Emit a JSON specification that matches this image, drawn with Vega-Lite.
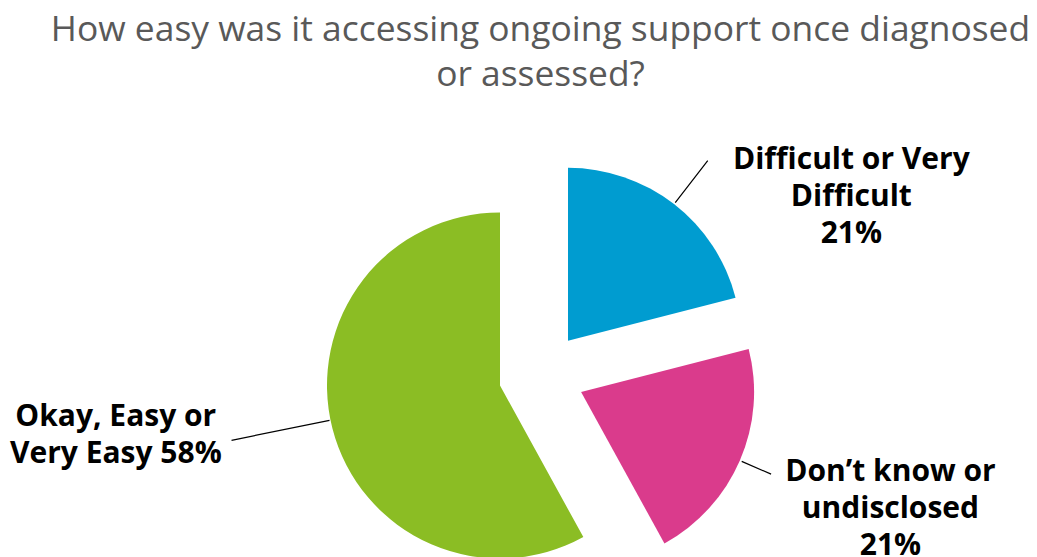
{
  "$schema": "https://vega.github.io/schema/vega-lite/v6.json",
  "width": 1037,
  "height": 557,
  "autosize": {"type": "fit", "contains": "padding"},
  "padding": {"top": 12, "bottom": 0, "left": 0, "right": 0},
  "background": "white",
  "config": {"view": {"stroke": null}},
  "title": {
    "text": ["How easy was it accessing ongoing support once diagnosed", "or assessed?"],
    "font": "Open Sans",
    "fontSize": 35.4,
    "fontWeight": "normal",
    "color": "#595959",
    "lineHeight": 45,
    "anchor": "middle",
    "dx": 22,
    "offset": 0
  },
  "data": {
    "values": [
      {"category": "Difficult or Very Difficult", "value": 21, "label": "Difficult or Very\nDifficult\n21%"},
      {"category": "Don’t know or undisclosed", "value": 21, "label": "Don’t know or\nundisclosed\n21%"},
      {"category": "Okay, Easy or Very Easy", "value": 58, "label": "Okay, Easy or\nVery Easy 58%"}
    ]
  },
  "transform": [
    {"stack": "value", "groupby": [], "sort": [{"field": "category", "order": "ascending"}], "as": ["v0", "v1"]}
  ],
  "encoding": {
    "color": {
      "field": "category",
      "type": "nominal",
      "scale": {
        "domain": ["Difficult or Very Difficult", "Don’t know or undisclosed", "Okay, Easy or Very Easy"],
        "range": ["#009CD0", "#DA3B8C", "#8BBD24"]
      },
      "legend": null
    }
  },
  "layer": [
    {
      "transform": [{"filter": {"field": "category", "equal": "Difficult or Very Difficult"}}],
      "mark": {"type": "arc", "outerRadius": 173, "strokeWidth": 0, "xOffset": 49.5, "yOffset": 15.8},
      "encoding": {
        "theta": {"field": "v0", "type": "quantitative", "scale": {"domain": [0, 100]}},
        "theta2": {"field": "v1"}
      }
    },
    {
      "transform": [{"filter": {"field": "category", "equal": "Don’t know or undisclosed"}}],
      "mark": {"type": "arc", "outerRadius": 173, "strokeWidth": 0, "xOffset": 62.6, "yOffset": 66.9},
      "encoding": {
        "theta": {"field": "v0", "type": "quantitative"},
        "theta2": {"field": "v1"}
      }
    },
    {
      "transform": [{"filter": {"field": "category", "equal": "Okay, Easy or Very Easy"}}],
      "mark": {"type": "arc", "outerRadius": 173, "strokeWidth": 0, "xOffset": -18.5, "yOffset": 60.5},
      "encoding": {
        "theta": {"field": "v0", "type": "quantitative"},
        "theta2": {"field": "v1"}
      }
    },
    {
      "transform": [{"filter": {"field": "category", "equal": "Difficult or Very Difficult"}}],
      "mark": {"type": "arc", "innerRadius": 175, "outerRadius": 228, "padAngle": 3, "filled": false, "stroke": "#000000", "strokeWidth": 1.2, "xOffset": 49.5, "yOffset": 15.8},
      "encoding": {
        "theta": {"field": "v0", "type": "quantitative"},
        "theta2": {"field": "v1"},
        "color": {"value": "#000000"}
      }
    },
    {
      "transform": [{"filter": {"field": "category", "equal": "Don’t know or undisclosed"}}],
      "mark": {"type": "arc", "innerRadius": 175, "outerRadius": 207, "padAngle": 3, "filled": false, "stroke": "#000000", "strokeWidth": 1.2, "xOffset": 62.6, "yOffset": 66.9},
      "encoding": {
        "theta": {"field": "v0", "type": "quantitative"},
        "theta2": {"field": "v1"},
        "color": {"value": "#000000"}
      }
    },
    {
      "transform": [{"filter": {"field": "category", "equal": "Okay, Easy or Very Easy"}}],
      "mark": {"type": "arc", "innerRadius": 174, "outerRadius": 274, "padAngle": 3, "thetaOffset": 0.35, "theta2Offset": -0.25, "filled": false, "stroke": "#000000", "strokeWidth": 1.2, "xOffset": -18.5, "yOffset": 60.5},
      "encoding": {
        "theta": {"field": "v0", "type": "quantitative"},
        "theta2": {"field": "v1"},
        "color": {"value": "#000000"}
      }
    },
    {
      "mark": {"type": "text", "radius": 230, "xOffset": 49.5, "yOffset": 15.8, "dx": 142.4, "dy": -13.9, "align": "center", "baseline": "top", "font": "Open Sans", "fontWeight": "bold", "fontSize": 30, "lineHeight": 37, "lineBreak": "\n"},
      "encoding": {
        "theta": {"field": "value", "type": "quantitative", "stack": true},
        "detail": {"field": "category"},
        "order": {"field": "category", "sort": "ascending"},
        "color": {"value": "#000000"},
        "text": {"condition": {"test": "datum.category === 'Difficult or Very Difficult'", "field": "label"}, "value": ""}
      }
    },
    {
      "mark": {"type": "text", "radius": 210, "xOffset": 62.6, "yOffset": 66.9, "dx": 116.6, "dy": -18, "align": "center", "baseline": "top", "font": "Open Sans", "fontWeight": "bold", "fontSize": 30, "lineHeight": 37, "lineBreak": "\n"},
      "encoding": {
        "theta": {"field": "value", "type": "quantitative", "stack": true},
        "detail": {"field": "category"},
        "order": {"field": "category", "sort": "ascending"},
        "color": {"value": "#000000"},
        "text": {"condition": {"test": "datum.category === 'Don’t know or undisclosed'", "field": "label"}, "value": ""}
      }
    },
    {
      "mark": {"type": "text", "radius": 280, "xOffset": -18.5, "yOffset": 60.5, "dx": -113, "dy": -53.4, "align": "center", "baseline": "top", "font": "Open Sans", "fontWeight": "bold", "fontSize": 30, "lineHeight": 37, "lineBreak": "\n"},
      "encoding": {
        "theta": {"field": "value", "type": "quantitative", "stack": true},
        "detail": {"field": "category"},
        "order": {"field": "category", "sort": "ascending"},
        "color": {"value": "#000000"},
        "text": {"condition": {"test": "datum.category === 'Okay, Easy or Very Easy'", "field": "label"}, "value": ""}
      }
    }
  ]
}
